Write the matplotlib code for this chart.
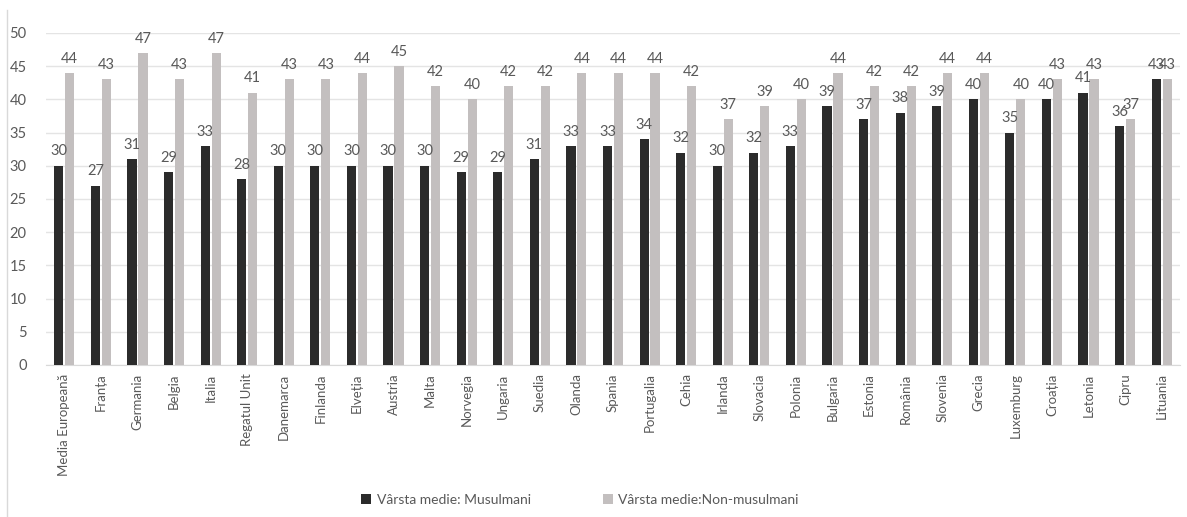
import matplotlib
matplotlib.use("Agg")
import matplotlib.pyplot as plt
import numpy as np
from matplotlib.patches import Patch
from matplotlib.lines import Line2D

categories = ["Media Europeană", "Franța", "Germania", "Belgia", "Italia", "Regatul Unit",
              "Danemarca", "Finlanda", "Elveția", "Austria", "Malta", "Norvegia", "Ungaria",
              "Suedia", "Olanda", "Spania", "Portugalia", "Cehia", "Irlanda", "Slovacia",
              "Polonia", "Bulgaria", "Estonia", "România", "Slovenia", "Grecia", "Luxemburg",
              "Croația", "Letonia", "Cipru", "Lituania"]
musulmani = [30, 27, 31, 29, 33, 28, 30, 30, 30, 30, 30, 29, 29, 31, 33, 33, 34, 32, 30, 32,
             33, 39, 37, 38, 39, 40, 35, 40, 41, 36, 43]
non_musulmani = [44, 43, 47, 43, 47, 41, 43, 43, 44, 45, 42, 40, 42, 42, 44, 44, 44, 42, 37, 39,
                 40, 44, 42, 42, 44, 44, 40, 43, 43, 37, 43]
series_names = ["Vârsta medie: Musulmani", "Vârsta medie:Non-musulmani"]

plt.rcParams['font.family'] = ['Lato', 'DejaVu Sans']
txt = '#595959'
c1 = '#2b2b2b'
c2 = '#c3bfbf'

fig = plt.figure(figsize=(11.87, 5.17), dpi=100)
ax = fig.add_axes([46/1187, 1-365/517, (1180-46)/1187, (365-33)/517])

x = np.arange(len(categories))
w = 0.25
off = 0.15
b1 = ax.bar(x - off, musulmani, w, color=c1, zorder=3)
b2 = ax.bar(x + off, non_musulmani, w, color=c2, zorder=3)
for rect, v in zip(b1, musulmani):
    ax.text(rect.get_x() + rect.get_width()/2, v + 1.1, str(v), ha='center', va='bottom',
            fontsize=10.5, color=txt)
for rect, v in zip(b2, non_musulmani):
    ax.text(rect.get_x() + rect.get_width()/2, v + 1.1, str(v), ha='center', va='bottom',
            fontsize=10.5, color=txt)

ax.set_xlim(-0.5, len(categories) - 0.5)
ax.set_ylim(0, 50)
ax.set_yticks(range(0, 51, 5))
ax.yaxis.grid(True, color='#e4e4e4', linewidth=1, zorder=0)
ax.set_axisbelow(True)
for s in ['top', 'right', 'left']:
    ax.spines[s].set_visible(False)
ax.spines['bottom'].set_color('#d9d9d9')
ax.tick_params(axis='y', length=0, labelsize=10.5, labelcolor=txt, pad=14)
ax.tick_params(axis='x', length=0, labelsize=9.5, labelcolor=txt, pad=6)
ax.set_xticks(x)
ax.set_xticklabels(categories, rotation=90)

handles = [Patch(facecolor=c1), Patch(facecolor=c2)]
fig.legend(handles, series_names, loc='center', bbox_to_anchor=(580/1187, 1-500/517),
           ncol=2, frameon=False, fontsize=10, labelcolor=txt, handlelength=0.7,
           handleheight=0.7, handletextpad=0.4, columnspacing=5.2)

fig.add_artist(Line2D([7/1187, 7/1187], [0, 1-10/517], color='#d9d9d9', linewidth=1))

fig.savefig('out.png', dpi=100)
